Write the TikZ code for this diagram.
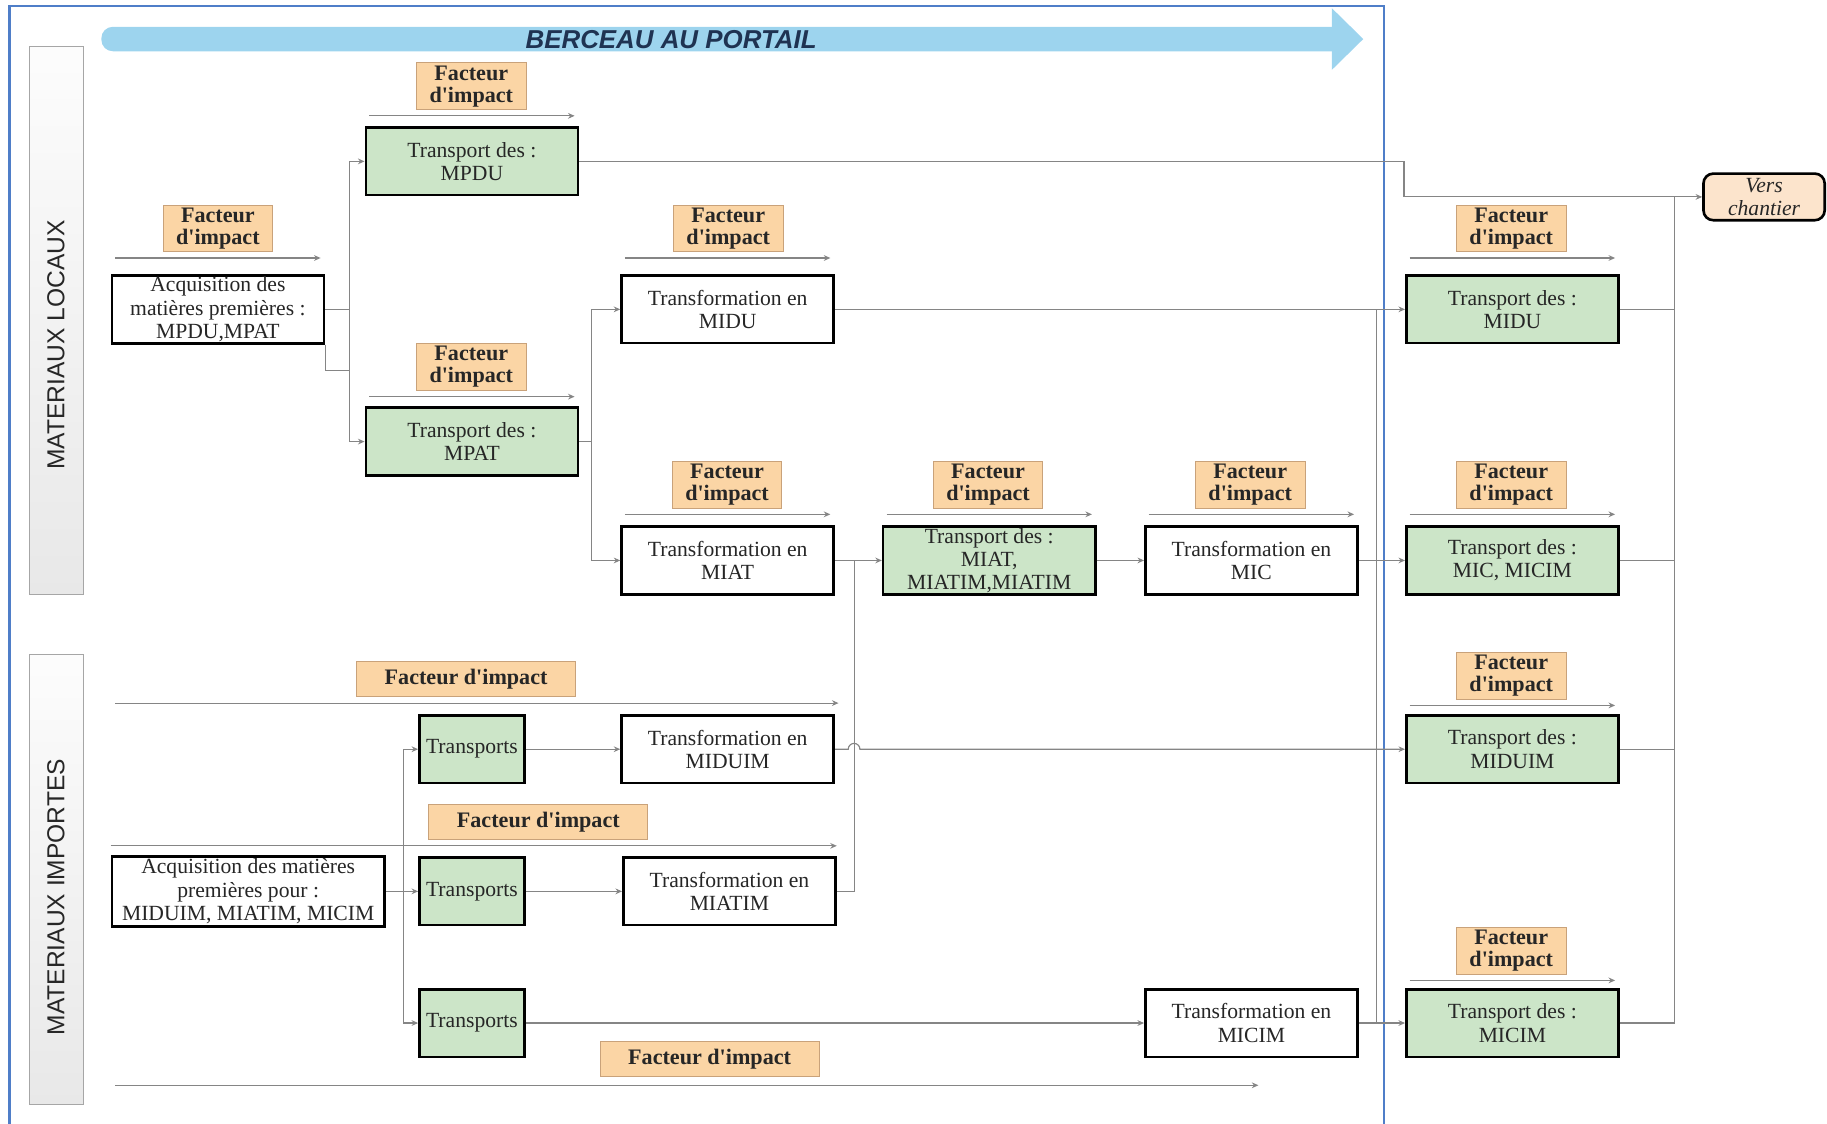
\documentclass[tikz,border=0pt]{standalone}
\usepackage{fontspec}
\setmainfont{Liberation Serif}
\setsansfont{Liberation Sans}
\usetikzlibrary{arrows.meta,calc}
\definecolor{vcGreen}{HTML}{CCE5C8}
\definecolor{vcTag}{HTML}{FBD5A5}
\definecolor{vcTagLine}{HTML}{C9A27A}
\definecolor{vcPeach}{HTML}{FCE4CC}
\definecolor{vcFrame}{HTML}{4F7EC8}
\definecolor{vcArrow}{HTML}{9DD4EE}
\definecolor{vcTitle}{HTML}{1F3352}
\definecolor{vcLine}{HTML}{858585}
\definecolor{vcInk}{HTML}{262626}
\newcommand\boxtxt{\fontsize{13.2}{14.2}\selectfont}
\newcommand\tagtxt{\fontsize{13.5}{13.5}\selectfont\bfseries}

\begin{document}
\begin{tikzpicture}[x=0.025cm,y=-0.025cm,
		box/.style={draw=black,line width=1.6pt,minimum width=4.55cm,minimum height=1.45cm,
			align=center,inner sep=1pt,font=\boxtxt,text=vcInk},
		grbox/.style={box,fill=vcGreen},
		wbox/.style={box,fill=white},
		trbox/.style={grbox,minimum width=2.25cm},
		tag/.style={draw=vcTagLine,line width=0.6pt,fill=vcTag,minimum width=2.35cm,minimum height=1cm,
			align=center,inner sep=1pt,font=\tagtxt,text=vcInk},
		longtag/.style={tag,minimum width=4.7cm,minimum height=0.75cm},
		ln/.style={draw=vcLine,line width=0.7pt},
		flow/.style={ln,-{Stealth[length=4pt,width=3.5pt]}},
		panel/.style={draw=gray!70,line width=0.6pt,top color=gray!2,bottom color=gray!18},
		sidetxt/.style={rotate=90,font=\sffamily\fontsize{15}{15}\selectfont,text=vcInk}]
		\path[use as bounding box] (0,0) rectangle (1568,964);
		\draw[vcFrame,line width=1.5pt] (8,5) rectangle (1188,990);
		\fill[vcArrow,rounded corners=7pt] (87,23) rectangle (1155,44);
		\fill[vcArrow] (1143,7) -- (1170,33.5) -- (1143,60) -- cycle;
		\node[font=\sffamily\bfseries\itshape\fontsize{15.8}{16}\selectfont,text=vcTitle] (title) at (576,34) {BERCEAU AU PORTAIL};
		\path[panel] (25,40) rectangle (72,510);
		\node[sidetxt] (lLoc) at (48,296) {MATERIAUX LOCAUX};
		\path[panel] (25,562) rectangle (72,948);
		\node[sidetxt] (lImp) at (48,770) {MATERIAUX IMPORTES};
		\node[grbox] (tMPDU) at (405,138.5) {Transport des :\\MPDU};
		\node[tag] (fMPDU) at (404.5,74) {Facteur\\d\textquotesingle impact};
		\node[wbox] (aLoc) at (187,265.5) {Acquisition des\\matières premières :\\MPDU,MPAT};
		\node[tag] (fAcq) at (187,196) {Facteur\\d\textquotesingle impact};
		\node[grbox] (tMPAT) at (405,379) {Transport des :\\MPAT};
		\node[tag] (fMPAT) at (404.5,315) {Facteur\\d\textquotesingle impact};
		\node[wbox] (trMIDU) at (624.5,265.5) {Transformation en\\MIDU};
		\node[tag] (fMIDU) at (625,196) {Facteur\\d\textquotesingle impact};
		\node[wbox] (trMIAT) at (624.5,481) {Transformation en\\MIAT};
		\node[tag] (fMIAT) at (624,416) {Facteur\\d\textquotesingle impact};
		\node[grbox] (tMIAT) at (849,481) {Transport des :\\MIAT,\\MIATIM,MIATIM};
		\node[tag] (fTMIAT) at (848,416) {Facteur\\d\textquotesingle impact};
		\node[wbox] (trMIC) at (1074,481) {Transformation en\\MIC};
		\node[tag] (fMIC) at (1073,416) {Facteur\\d\textquotesingle impact};
		\foreach \n/\y/\ty/\txt in {rMIDU/265.5/196/MIDU,rMIC/481/416/{MIC, MICIM},rMIDUIM/643/580/MIDUIM,rMICIM/878/816/MICIM}{
			\node[grbox] (\n) at (1298,\y) {Transport des :\\\txt};
			\node[tag] (f\n) at (1297,\ty) {Facteur\\d\textquotesingle impact};
		}
		\node[draw=black,line width=1.6pt,fill=vcPeach,rounded corners=6pt,minimum width=2.6cm,minimum height=1cm,
			align=center,inner sep=1pt,font=\boxtxt\itshape,text=vcInk] (vers) at (1514,169) {Vers\\chantier};
		\node[longtag] (fImp1) at (400,583) {Facteur d\textquotesingle impact};
		\node[trbox] (tr1) at (405,643) {Transports};
		\node[wbox] (trMIDUIM) at (624.5,643) {Transformation en\\MIDUIM};
		\node[longtag] (fImp2) at (462,705.5) {Facteur d\textquotesingle impact};
		\node[wbox,minimum width=5.85cm,minimum height=1.5cm] (aImp) at (213,765) {Acquisition des matières\\premières pour :\\MIDUIM, MIATIM, MICIM};
		\node[trbox] (tr2) at (405,765) {Transports};
		\node[wbox] (trMIATIM) at (626,765) {Transformation en\\MIATIM};
		\node[trbox] (tr3) at (405,878) {Transports};
		\node[wbox] (trMICIM) at (1074,878) {Transformation en\\MICIM};
		\node[longtag] (fImp3) at (609,909) {Facteur d\textquotesingle impact};
		\foreach \b/\t in {tMPDU/fMPDU,aLoc/fAcq,tMPAT/fMPAT,trMIDU/fMIDU,trMIAT/fMIAT,tMIAT/fTMIAT,trMIC/fMIC,
			rMIDU/frMIDU,rMIC/frMIC,rMIDUIM/frMIDUIM,rMICIM/frMICIM}
			\draw[flow] ($(\b.west |- \t.south)+(4,5)$) -- ($(\b.east |- \t.south)+(-4,5)$);
		\draw[flow] ($(aImp.west |- fImp1.south)+(4,5)$) -- ($(trMIDUIM.east |- fImp1.south)+(3,5)$);
		\draw[flow] ($(aImp.west |- fImp2.south)+(0,5)$) -- ($(trMIATIM.east |- fImp2.south)+(0,5)$);
		\draw[flow] ($(aImp.west |- fImp3.south)+(4,7)$) -- ($(trMICIM.center |- fImp3.south)+(6,7)$);
		\coordinate (busA) at (300,318);
		\coordinate (busB) at (508,379);
		\coordinate (busC) at (733,481);
		\coordinate (busD) at (346,765);
		\coordinate (busE) at (1181,878);
		\coordinate (busF) at (1205,169);
		\coordinate (busR) at (1437,169);
		\draw[ln] (aLoc.east) -- (aLoc.east -| busA);
		\draw[ln] (aLoc.south east) |- (busA);
		\draw[flow] (busA) |- (tMPDU.west);
		\draw[flow] (busA) |- (tMPAT.west);
		\draw[flow] (tMPDU.east) -| (busF) -- (vers.west);
		\draw[ln] (tMPAT.east) -- (busB);
		\draw[flow] (busB) |- (trMIDU.west);
		\draw[flow] (busB) |- (trMIAT.west);
		\draw[flow] (trMIDU) -- (rMIDU);
		\draw[flow] (trMIAT) -- (tMIAT);
		\draw[ln] (trMIATIM.east) -| (busC);
		\draw[flow] (tMIAT) -- (trMIC);
		\draw[flow] (trMIC) -- (rMIC);
		\draw[flow] (trMIDUIM.east) -- ($(busC |- trMIDUIM.east)+(-5,0)$) arc[start angle=180,end angle=0,radius=0.125cm] -- (rMIDUIM.west);
		\draw[ln] (aImp.east) -- (busD);
		\draw[flow] (busD) |- (tr1.west);
		\draw[flow] (busD) -- (tr2.west);
		\draw[flow] (busD) |- (tr3.west);
		\draw[flow] (tr1) -- (trMIDUIM);
		\draw[flow] (tr2) -- (trMIATIM);
		\draw[flow] (tr3) -- (trMICIM);
		\draw[flow] (trMICIM) -- (rMICIM);
		\draw[ln] (busE) -- (busE |- trMIDU.east);
		\foreach \n in {rMIDU,rMIC,rMIDUIM}{\draw[ln] (\n.east) -- (\n.east -| busR);}
		\draw[ln] (rMICIM.east) -| (busR);
	\end{tikzpicture}
\end{document}
